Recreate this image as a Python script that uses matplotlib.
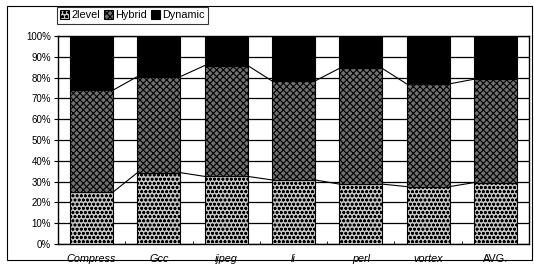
import numpy as np
import matplotlib
matplotlib.use("Agg")
from matplotlib import pyplot as plt
from matplotlib.patches import Rectangle

plt.rcParams['font.family'] = ['Liberation Sans', 'DejaVu Sans']
plt.rcParams['hatch.linewidth'] = 0.8

# values (percent)
benchmarks = ['Compress', 'Gcc', 'ijpeg', 'li', 'perl', 'vortex', 'AVG.']
twolevel = [25, 34.3, 32.5, 30.8, 28.8, 27.6, 29.5]
hybrid = [49, 46.2, 53.3, 47.6, 55.6, 49.4, 49.7]
dynamic = [26, 19.5, 14.2, 21.6, 15.6, 23, 20.8]

fig = plt.figure(figsize=(5.34, 2.66), dpi=100)
ax = fig.add_axes([58 / 534, 22 / 266, 471 / 534, 208 / 266])

x = np.arange(len(benchmarks))
w = 0.64
b1 = ax.bar(x, twolevel, w, color='#c4c4c4', edgecolor='black', hatch='oooo',
            linewidth=0.8, zorder=3, label='2level')
b2 = ax.bar(x, hybrid, w, bottom=twolevel, color='#707070', edgecolor='black',
            hatch='xxxxx', linewidth=0.8, zorder=3, label='Hybrid')
top2 = np.array(twolevel) + np.array(hybrid)
b3 = ax.bar(x, dynamic, w, bottom=top2, color='black', edgecolor='black',
            linewidth=0.8, zorder=3, label='Dynamic')

# series lines between bars
for lev in (np.array(twolevel), top2):
    for i in range(len(x) - 1):
        ax.plot([x[i] + w / 2, x[i + 1] - w / 2], [lev[i], lev[i + 1]],
                color='black', lw=0.8, zorder=4)

ax.set_xlim(-0.5, len(x) - 0.5)
ax.set_ylim(0, 100)
ax.set_yticks(np.arange(0, 101, 10))
ax.set_yticklabels([f'{v}%' for v in range(0, 101, 10)], fontsize=7)
ax.yaxis.grid(True, color='black', lw=0.9, zorder=0)
ax.set_axisbelow(True)
ax.tick_params(axis='y', length=3, width=0.8, pad=2)
ax.set_xticks(x)
ax.set_xticklabels(benchmarks, fontsize=7.8)
for lbl in ax.get_xticklabels()[:-1]:
    lbl.set_style('italic')
ax.tick_params(axis='x', length=0, pad=7)
ax.set_xticks(np.arange(0.5, len(x) - 1, 1), minor=True)
ax.tick_params(axis='x', which='minor', length=2, direction='in')
for s in ax.spines.values():
    s.set_linewidth(1.0)

leg = fig.legend(handles=[b1, b2, b3], loc='upper left',
                 bbox_to_anchor=(57 / 534, 1 - 7 / 266), ncol=3, fontsize=7.8,
                 frameon=True, fancybox=False, edgecolor='black',
                 handlelength=0.8, handleheight=0.8, handletextpad=0.2,
                 columnspacing=0.4, borderpad=0.3, borderaxespad=0)
leg.get_frame().set_linewidth(0.8)

fig.patches.append(Rectangle((7 / 534, 6 / 266), 525 / 534, 254 / 266,
                             transform=fig.transFigure, fill=False,
                             edgecolor='black', lw=0.8))

fig.savefig('out.png', dpi=100)
